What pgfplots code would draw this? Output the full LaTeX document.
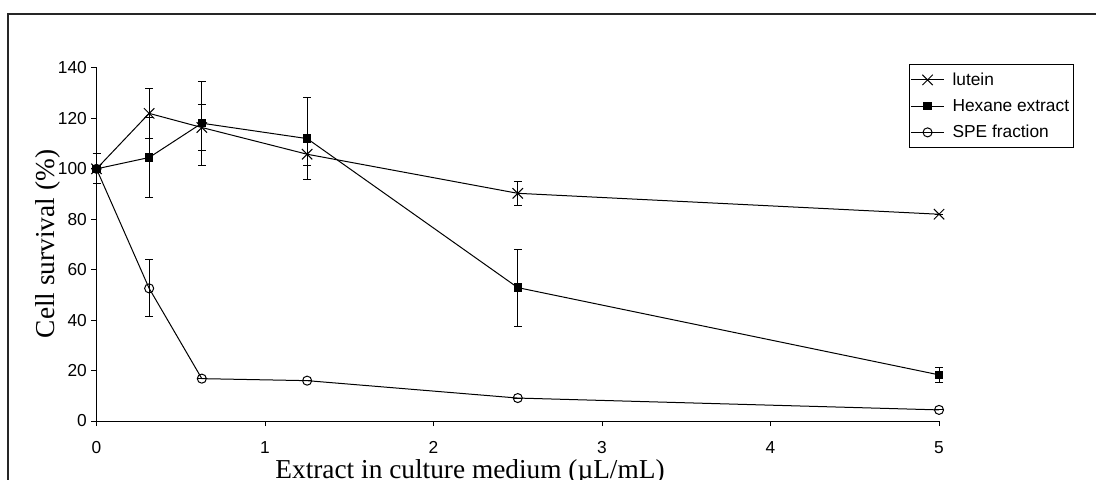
\documentclass[border=0pt]{standalone}
\usepackage{fontspec}
\setmainfont{Liberation Sans}
\newfontfamily\timesfont{Liberation Serif}
\usepackage{pgfplots}
\pgfplotsset{compat=1.18}

\pgfplotstableread{
x y e
0 100 6
0.3125 122 10
0.625 116.4 9
1.25 105.8 4.5
2.5 90.3 4.7
5 82 0
}\lutein
\pgfplotstableread{
x y e
0 100 0
0.3125 104.5 15.7
0.625 118.1 16.6
1.25 112 16.3
2.5 52.9 15.3
5 18.3 3
}\hexane
\pgfplotstableread{
x y e
0 100 0
0.3125 52.6 11.3
0.625 16.8 0
1.25 16 0
2.5 9.1 0
5 4.4 0
}\spe

\begin{document}
\begin{tikzpicture}[x=0.75pt,y=0.75pt]
\useasboundingbox (0,0) rectangle (1096,479);
\begin{scope}
\clip (0,0) rectangle (1096,479);
\draw[line width=0.9pt, black!85] (8,-20) -- (8,465) -- (1120,465);
\begin{axis}[
  at={(72.375pt,43.5pt)}, anchor=origin,
  width=631.9pt, height=264.75pt, scale only axis,
  xmin=0, xmax=5, ymin=0, ymax=140,
  axis x line=bottom, axis y line=left,
  axis line style={-, line width=0.75pt},
  xtick={0,1,2,3,4,5}, ytick={0,20,...,140},
  tick align=outside, major tick length=3.75pt,
  tick style={black, line width=0.75pt},
  ticklabel style={font=\fontsize{13}{15}\selectfont},
  xticklabel style={yshift=-8pt},
  /pgf/number format/assume math mode=true,
  clip=false,
  xlabel={Extract in culture medium (µL/mL)},
  ylabel={Cell survival (\%)},
  xlabel style={font=\timesfont\fontsize{20.5}{24}\selectfont, at={(axis description cs:0.4433,-0.1615)}, anchor=base},
  ylabel style={font=\timesfont\fontsize{20.5}{24}\selectfont, at={(axis description cs:-0.0493,0.5014)}, anchor=base},
  legend style={at={(axis description cs:0.964,1.011)}, anchor=north west,
    draw=black, line width=0.75pt, font=\fontsize{13}{15}\selectfont,
    inner xsep=1pt, inner ysep=4pt, row sep=5pt, column sep=4pt,
    cells={anchor=west}},
  legend image code/.code={\draw[mark repeat=2,mark phase=2,#1] plot coordinates {(0pt,0pt)(12.4pt,0pt)(24.75pt,0pt)};},
  error bars/error bar style={black, line width=0.75pt},
  error bars/error mark options={rotate=90, mark size=3pt, black, line width=0.75pt},
]
\addplot[black, line width=0.75pt, mark=x, mark size=5.5pt,
  error bars/.cd, y dir=both, y explicit]
  table[x=x, y=y, y error=e] {\lutein};
\addlegendentry{lutein}
\addplot[black, line width=0.75pt, mark=square*, mark size=2.75pt,
  error bars/.cd, y dir=both, y explicit]
  table[x=x, y=y, y error=e] {\hexane};
\addlegendentry{Hexane extract}
\addplot[black, line width=0.75pt, mark=o, mark size=3.4pt, mark options={fill=white},
  error bars/.cd, y dir=both, y explicit]
  table[x=x, y=y, y error=e] {\spe};
\addlegendentry{SPE fraction}
\end{axis}
\end{scope}
\end{tikzpicture}
\end{document}
